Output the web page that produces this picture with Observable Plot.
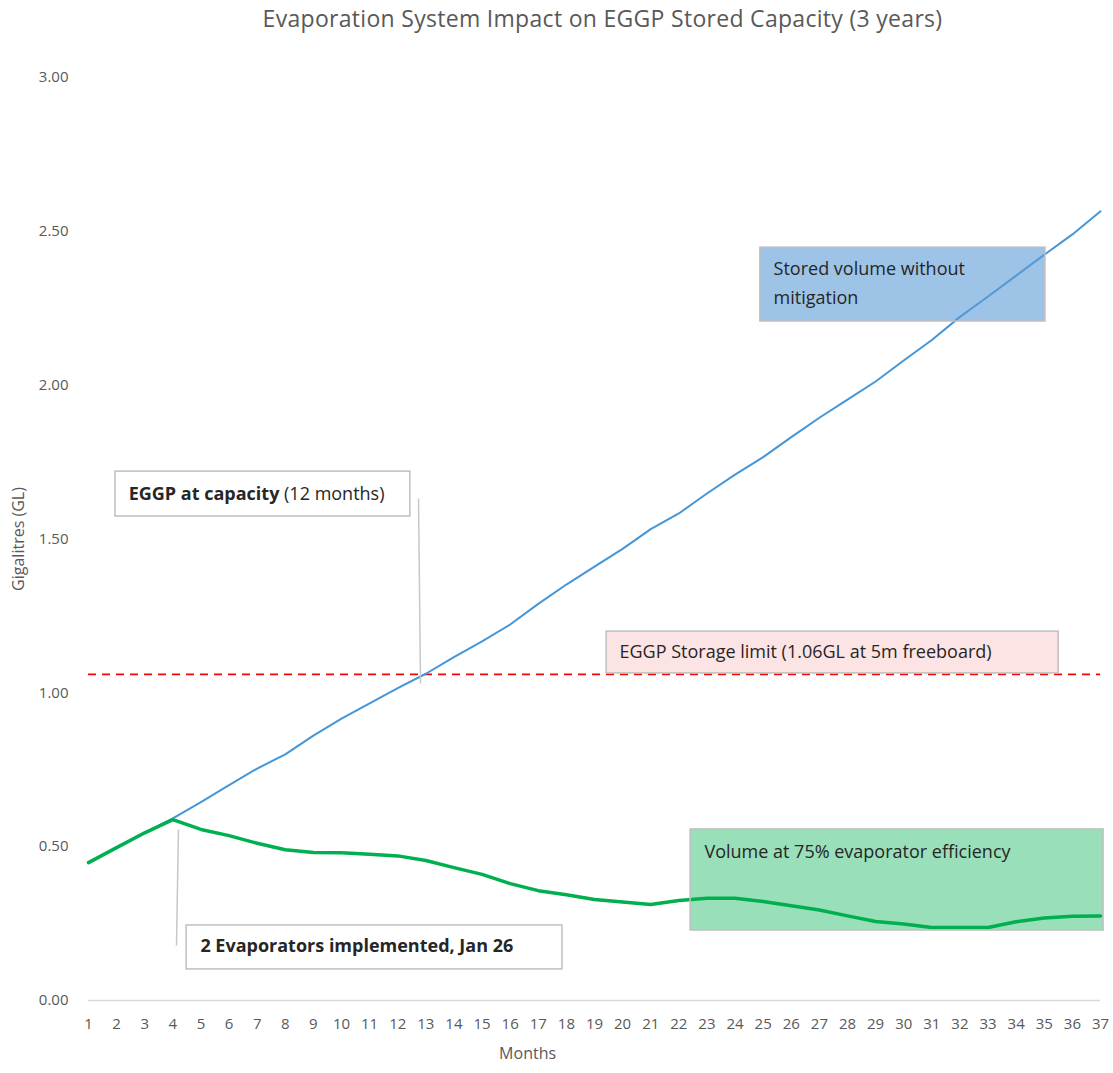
<!DOCTYPE html>
<html>
<head>
<meta charset="utf-8">
<script src="https://cdn.jsdelivr.net/npm/d3@7"></script>
<script src="https://cdn.jsdelivr.net/npm/@observablehq/plot@0.6"></script>
<style>
  body { margin: 0; background: #fff; font-family: "Open Sans", sans-serif; }
  #title { height: 40px; line-height: 36px; padding-left: 92px; text-align: center; font-size: 23px; letter-spacing: 0.3px; color: #595959; white-space: nowrap; }
</style>
</head>
<body>
<div id="title">Evaporation System Impact on EGGP Stored Capacity (3 years)</div>
<div id="chart"></div>
<script>
// ---- Data ----
const months = [1,2,3,4,5,6,7,8,9,10,11,12,13,14,15,16,17,18,19,20,21,22,23,24,25,26,27,28,29,30,31,32,33,34,35,36,37];
const storedWithoutMitigation = [0.448,0.497,0.545,0.592,0.645,0.700,0.754,0.800,0.861,0.916,0.966,1.015,1.062,1.116,1.167,1.222,1.289,1.352,1.410,1.468,1.532,1.583,1.648,1.709,1.766,1.831,1.894,1.953,2.012,2.080,2.147,2.222,2.288,2.356,2.424,2.490,2.565];
const volumeAt75Efficiency = [0.448,0.497,0.545,0.588,0.556,0.536,0.511,0.490,0.481,0.480,0.475,0.470,0.455,0.432,0.410,0.380,0.357,0.344,0.328,0.320,0.312,0.325,0.332,0.332,0.322,0.308,0.294,0.275,0.257,0.249,0.237,0.237,0.237,0.256,0.268,0.274,0.275];
const storageLimit = 1.06;
const yTicks = [0, 0.5, 1, 1.5, 2, 2.5, 3];

const blueRows = months.map((m, i) => ({month: m, value: storedWithoutMitigation[i]}));
const greenRows = months.map((m, i) => ({month: m, value: volumeAt75Efficiency[i]}));

// ---- Annotation layout (in data units: months, GL) ----
const boxes = [
  {x1: 1.96, x2: 12.45, y1: 1.573, y2: 1.719, fill: "#ffffff", op: 1},
  {x1: 19.43, x2: 35.51, y1: 1.063, y2: 1.199, fill: "#fce4e4", op: 1},
  {x1: 24.9, x2: 35.04, y1: 2.207, y2: 2.447, fill: "#5B9BD5", op: 0.6},
  {x1: 22.42, x2: 37.11, y1: 0.2275, y2: 0.556, fill: "#00B050", op: 0.4},
  {x1: 4.49, x2: 17.86, y1: 0.101, y2: 0.244, fill: "#ffffff", op: 1}
];
const connectors = [
  {x1: 12.74, y1: 1.632, x2: 12.81, y2: 1.030},
  {x1: 4.20, y1: 0.556, x2: 4.13, y2: 0.179}
];
const labels = [
  {x: 2.43, y: 1.646, text: "EGGP at capacity (12 months)"},
  {x: 19.89, y: 1.131, text: "EGGP Storage limit (1.06GL at 5m freeboard)"},
  {x: 25.37, y: 2.376, text: "Stored volume without"},
  {x: 25.37, y: 2.282, text: "mitigation"},
  {x: 22.91, y: 0.481, text: "Volume at 75% evaporator efficiency"}
];
const boldLabels = [
  {x: 4.98, y: 0.1755, text: "2 Evaporators implemented, Jan 26"}
];

const W = 1113, H = 1033;
const chart = Plot.plot({
  width: W,
  height: H,
  marginLeft: 88,
  marginRight: 13,
  marginTop: 37,
  marginBottom: 73,
  style: {fontFamily: "Open Sans, sans-serif", fontSize: "15px", color: "#595959", background: "white", overflow: "visible"},
  x: {type: "linear", domain: [1, 37]},
  y: {domain: [0, 3]},
  marks: [
    Plot.axisY({ticks: yTicks, tickFormat: d3.format(".2f"), tickSize: 0, tickPadding: 20, label: null, fill: "#595959", fontSize: 15}),
    Plot.axisX({ticks: months, tickFormat: d => String(d), tickSize: 0, tickPadding: 18, label: null, fill: "#595959", fontSize: 15}),
    Plot.ruleY([0], {stroke: "#d9d9d9", strokeWidth: 1.5}),
    Plot.ruleY([storageLimit], {stroke: "#ff0000", strokeWidth: 1.6, strokeDasharray: "8,6"}),
    Plot.line(blueRows, {x: "month", y: "value", stroke: "#4496D8", strokeWidth: 2}),
    Plot.line(greenRows, {x: "month", y: "value", stroke: "#00B050", strokeWidth: 3.5}),
    Plot.rect(boxes, {x1: "x1", x2: "x2", y1: "y1", y2: "y2", fill: "fill", fillOpacity: "op"}),
    Plot.rect(boxes, {x1: "x1", x2: "x2", y1: "y1", y2: "y2", fill: "none", stroke: "#bfbfbf", strokeWidth: 1.5}),
    Plot.link(connectors, {x1: "x1", y1: "y1", x2: "x2", y2: "y2", stroke: "#c8c8c8", strokeWidth: 1.5}),
    Plot.text(labels, {x: "x", y: "y", text: "text", textAnchor: "start", fill: "#262626", fontSize: 18}),
    Plot.text(boldLabels, {x: "x", y: "y", text: "text", textAnchor: "start", fill: "#262626", fontSize: 18, fontWeight: "bold"}),
    Plot.text(["Gigalitres (GL)"], {frameAnchor: "left", y: () => 1.5, text: d => d, rotate: -90, textAnchor: "middle", dx: -70, fill: "#595959", fontSize: 16}),
    Plot.text(["Months"], {frameAnchor: "bottom", x: () => 16.62, text: d => d, textAnchor: "middle", dy: 58, fill: "#595959", fontSize: 16})
  ]
});

// Bold the lead-in words of the capacity label
d3.select(chart).selectAll("text").each(function() {
  if (this.textContent === "EGGP at capacity (12 months)") {
    const t = d3.select(this);
    t.text(null);
    t.append("tspan").attr("font-weight", "bold").text("EGGP at capacity");
    t.append("tspan").text(" (12 months)");
  }
});

document.getElementById("chart").appendChild(chart);
</script>
</body>
</html>
